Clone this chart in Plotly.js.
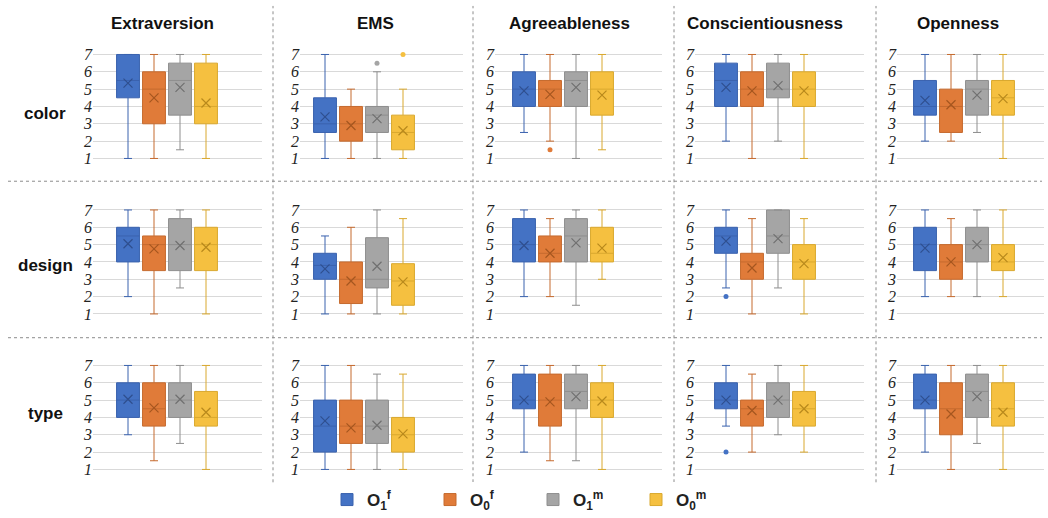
<!DOCTYPE html>
<html><head><meta charset="utf-8">
<script src="https://cdn.plot.ly/plotly-3.0.1.min.js"></script>
<style>html,body{margin:0;padding:0;background:#fff}#chart{width:1048px;height:518px}</style>
</head><body><div id="chart"></div>
<script>
// Panels in row-major order: rows = color, design, type; columns = traits
const traits = ['Extraversion', 'EMS', 'Agreeableness', 'Conscientiousness', 'Openness'];
const aspects = ['color', 'design', 'type'];
const seriesNames = ['O<sub>1</sub><sup>f</sup>', 'O<sub>0</sub><sup>f</sup>', 'O<sub>1</sub><sup>m</sup>', 'O<sub>0</sub><sup>m</sup>'];
const yTicks = [1, 2, 3, 4, 5, 6, 7];

// O1f
const o1f_lo   = [1, 1, 2.5, 2, 2,   2, 1, 2, 2.5, 2,   3, 1, 2, 3.5, 2];
const o1f_q1   = [4.5, 2.5, 4, 4, 3.5,   4, 3, 4, 4.5, 3.5,   4, 2, 4.5, 4.5, 4.5];
const o1f_med  = [5.5, 3, 5, 5.5, 4,   5.5, 3.8, 5, 5.5, 5,   5, 3.5, 5, 5, 5];
const o1f_q3   = [7, 4.5, 6, 6.5, 5.5,   6, 4.5, 6.5, 6, 6,   6, 5, 6.5, 6, 6.5];
const o1f_hi   = [7, 7, 7, 7, 7,   7, 5.5, 7, 7, 7,   7, 7, 7, 7, 7];
const o1f_mean = [5.35, 3.4, 4.9, 5.1, 4.35,   5.05, 3.6, 4.95, 5.2, 4.8,   5.05, 3.8, 5.0, 5.0, 5.0];
const o1f_outPanel = [8, 13];
const o1f_outVal   = [2, 2];

// O0f
const o0f_lo   = [1, 1, 2, 1, 2,   1, 1, 2, 1, 2,   1.5, 1, 1.5, 2, 1];
const o0f_q1   = [3, 2, 4, 4, 2.5,   3.5, 1.6, 4, 3, 3,   3.5, 2.5, 3.5, 3.5, 3];
const o0f_med  = [5, 3, 5, 5, 4,   5, 3, 4.5, 4, 4,   4.5, 3.5, 5, 4.5, 4.5];
const o0f_q3   = [6, 4, 5.5, 6, 5,   5.5, 4, 5.5, 4.5, 5,   6, 5, 6.5, 5, 6];
const o0f_hi   = [7, 5, 7, 7, 7,   7, 6, 6.5, 6.5, 6.5,   7, 7, 7, 6.5, 7];
const o0f_mean = [4.5, 2.9, 4.7, 4.9, 4.1,   4.75, 2.9, 4.5, 3.65, 4.0,   4.55, 3.4, 4.9, 4.4, 4.2];
const o0f_outPanel = [2];
const o0f_outVal   = [1.5];

// O1m
const o1m_lo   = [1.5, 1, 1, 2, 2.5,   2.5, 1, 1.5, 2.5, 2,   2.5, 1, 1.5, 3, 2.5];
const o1m_q1   = [3.5, 2.5, 4, 4.5, 3.5,   3.5, 2.5, 4, 4.5, 4,   4, 2.5, 4.5, 4, 4];
const o1m_med  = [5.5, 3.5, 5.5, 5, 5,   5, 3, 5.5, 5.5, 5,   5, 3.5, 5.5, 5, 5.5];
const o1m_q3   = [6.5, 4, 6, 6.5, 5.5,   6.5, 5.4, 6.5, 7, 6,   6, 5, 6.5, 6, 6.5];
const o1m_hi   = [7, 6, 7, 7, 7,   7, 7, 7, 7, 7,   7, 6.5, 7, 7, 7];
const o1m_mean = [5.1, 3.3, 5.1, 5.2, 4.65,   4.95, 3.75, 5.1, 5.35, 5.0,   5.05, 3.55, 5.2, 5.0, 5.2];
const o1m_outPanel = [1];
const o1m_outVal   = [6.5];

// O0m
const o0m_lo   = [1, 1, 1.5, 1, 1,   1, 1, 3, 1, 2,   1, 1, 1, 2, 1];
const o0m_q1   = [3, 1.5, 3.5, 4, 3.5,   3.5, 1.5, 4, 3, 3.5,   3.5, 2, 4, 3.5, 3.5];
const o0m_med  = [4, 2.5, 5, 5, 4.5,   5, 2.9, 4.5, 4, 4,   4, 3, 5, 4.5, 4.5];
const o0m_q3   = [6.5, 3.5, 6, 6, 5.5,   6, 3.9, 6, 5, 5,   5.5, 4, 6, 5.5, 6];
const o0m_hi   = [7, 5, 7, 7, 7,   7, 6.5, 7, 6.5, 7,   7, 6.5, 7, 7, 7];
const o0m_mean = [4.2, 2.6, 4.65, 4.9, 4.45,   4.85, 2.85, 4.8, 3.9, 4.25,   4.3, 3.05, 4.95, 4.5, 4.3];
const o0m_outPanel = [1];
const o0m_outVal   = [7];

const seriesData = [
  {lo:o1f_lo, q1:o1f_q1, med:o1f_med, q3:o1f_q3, hi:o1f_hi, mean:o1f_mean, op:o1f_outPanel, ov:o1f_outVal},
  {lo:o0f_lo, q1:o0f_q1, med:o0f_med, q3:o0f_q3, hi:o0f_hi, mean:o0f_mean, op:o0f_outPanel, ov:o0f_outVal},
  {lo:o1m_lo, q1:o1m_q1, med:o1m_med, q3:o1m_q3, hi:o1m_hi, mean:o1m_mean, op:o1m_outPanel, ov:o1m_outVal},
  {lo:o0m_lo, q1:o0m_q1, med:o0m_med, q3:o0m_q3, hi:o0m_hi, mean:o0m_mean, op:o0m_outPanel, ov:o0m_outVal}
];

const fills = ['#4472C4', '#E07B39', '#A5A5A5', '#F5C040'];
const lines = ['#3A62AE', '#C56A2E', '#8E8E8E', '#D9A82E'];
const darks = ['#2F4F8F', '#A5561F', '#707070', '#B8891C'];

// Geometry (pixels)
const W = 1048, H = 518;
const colGeom = [
  {L: 93, R: 262, c0: 128},
  {L: 300, R: 463, c0: 325},
  {L: 495, R: 662, c0: 524},
  {L: 695, R: 864, c0: 726},
  {L: 897, R: 1044, c0: 925}
];
const rowGeom = [{p7: 55, p1: 160}, {p7: 212, p1: 317}, {p7: 369, p1: 474}];
const step = 26;
const yr = [0.85, 7.15];

const traces = [];
const layout = {
  width: W, height: H, autosize: false,
  margin: {l: 0, r: 0, t: 0, b: 0},
  paper_bgcolor: '#fff', plot_bgcolor: 'rgba(0,0,0,0)',
  boxmode: 'overlay',
  showlegend: true,
  legend: {
    orientation: 'h', x: 327 / W, xanchor: 'left', y: (H - 505) / H, yanchor: 'middle',
    font: {family: 'Liberation Sans, Arial, sans-serif', size: 17, color: '#222'},
    entrywidth: 58, entrywidthmode: 'pixels', traceorder: 'normal', itemclick: false, itemdoubleclick: false
  },
  annotations: [], shapes: []
};

for (let r = 0; r < 3; r++) {
  for (let c = 0; c < 5; c++) {
    const i = r * 5 + c;
    const k = i + 1;
    const xn = 'x' + (k === 1 ? '' : k), yn = 'y' + (k === 1 ? '' : k);
    const cg = colGeom[c], rg = rowGeom[r];
    const u = (rg.p1 - rg.p7) / 6;
    const bottomPx = rg.p1 + (1 - yr[0]) * u, topPx = rg.p7 - (yr[1] - 7) * u;
    layout['xaxis' + (k === 1 ? '' : k)] = {
      domain: [cg.L / W, cg.R / W],
      range: [(cg.L - cg.c0) / step, (cg.R - cg.c0) / step],
      showgrid: false, zeroline: false, showline: false, showticklabels: false, ticks: '',
      anchor: yn, fixedrange: true
    };
    layout['yaxis' + (k === 1 ? '' : k)] = {
      domain: [1 - bottomPx / H, 1 - topPx / H],
      range: yr, tickvals: yTicks, ticktext: yTicks.map(String),
      showgrid: true, gridcolor: '#D9D9D9', gridwidth: 1,
      zeroline: false, showline: false, ticks: '',
      tickfont: {family: 'Liberation Serif, Times New Roman, serif', style: 'italic', size: 16, color: '#222'},
      anchor: xn, fixedrange: true
    };
    for (let s = 0; s < 4; s++) {
      const d = seriesData[s];
      traces.push({
        type: 'box', xaxis: xn, yaxis: yn, x: [s],
        q1: [d.q1[i]], median: [d.med[i]], q3: [d.q3[i]],
        lowerfence: [d.lo[i]], upperfence: [d.hi[i]],
        width: 0.88, whiskerwidth: 0.35,
        fillcolor: fills[s], line: {color: lines[s], width: 1},
        boxpoints: false, name: '<b>' + seriesNames[s] + '</b>', legendgroup: 'g' + s,
        showlegend: i === 0, hoverinfo: 'skip'
      });
      traces.push({
        type: 'scatter', mode: 'markers', xaxis: xn, yaxis: yn, x: [s], y: [d.mean[i]],
        marker: {symbol: 'x-thin', size: 9, color: darks[s], line: {width: 1.2, color: darks[s]}},
        showlegend: false, hoverinfo: 'skip', legendgroup: 'g' + s
      });
      const ox = [], oy = [];
      d.op.forEach((p, j) => { if (p === i) { ox.push(s); oy.push(d.ov[j]); } });
      if (ox.length) {
        traces.push({
          type: 'scatter', mode: 'markers', xaxis: xn, yaxis: yn, x: ox, y: oy,
          marker: {symbol: 'circle', size: 5, color: fills[s]},
          showlegend: false, hoverinfo: 'skip', legendgroup: 'g' + s
        });
      }
    }
  }
}

const titleFont = {family: 'Liberation Sans, Arial, sans-serif', size: 17, color: '#111'};
const colCenters = [162, 375, 569, 765, 958];
traits.forEach((t, c) => layout.annotations.push({
  xref: 'paper', yref: 'paper', x: colCenters[c] / W, y: 1 - 24 / H,
  xanchor: 'center', yanchor: 'middle', showarrow: false, text: '<b>' + t + '</b>', font: titleFont
}));
const rowCenters = [115, 268, 418];
aspects.forEach((a, r) => layout.annotations.push({
  xref: 'paper', yref: 'paper', x: 45 / W, y: 1 - rowCenters[r] / H,
  xanchor: 'center', yanchor: 'middle', showarrow: false, text: '<b>' + a + '</b>', font: titleFont
}));

const sepStyle = {color: '#8C8C8C', width: 1, dash: 'dot'};
[273, 473, 674, 876].forEach(px => layout.shapes.push({
  type: 'line', xref: 'paper', yref: 'paper', x0: px / W, x1: px / W, y0: 1 - 487 / H, y1: 1 - 6 / H, line: sepStyle
}));
[183, 341].forEach(py => layout.shapes.push({
  type: 'line', xref: 'paper', yref: 'paper', x0: 8 / W, x1: 1042 / W, y0: 1 - py / H, y1: 1 - py / H, line: sepStyle
}));

Plotly.newPlot('chart', traces, layout, {staticPlot: true, displayModeBar: false});
</script></body></html>
